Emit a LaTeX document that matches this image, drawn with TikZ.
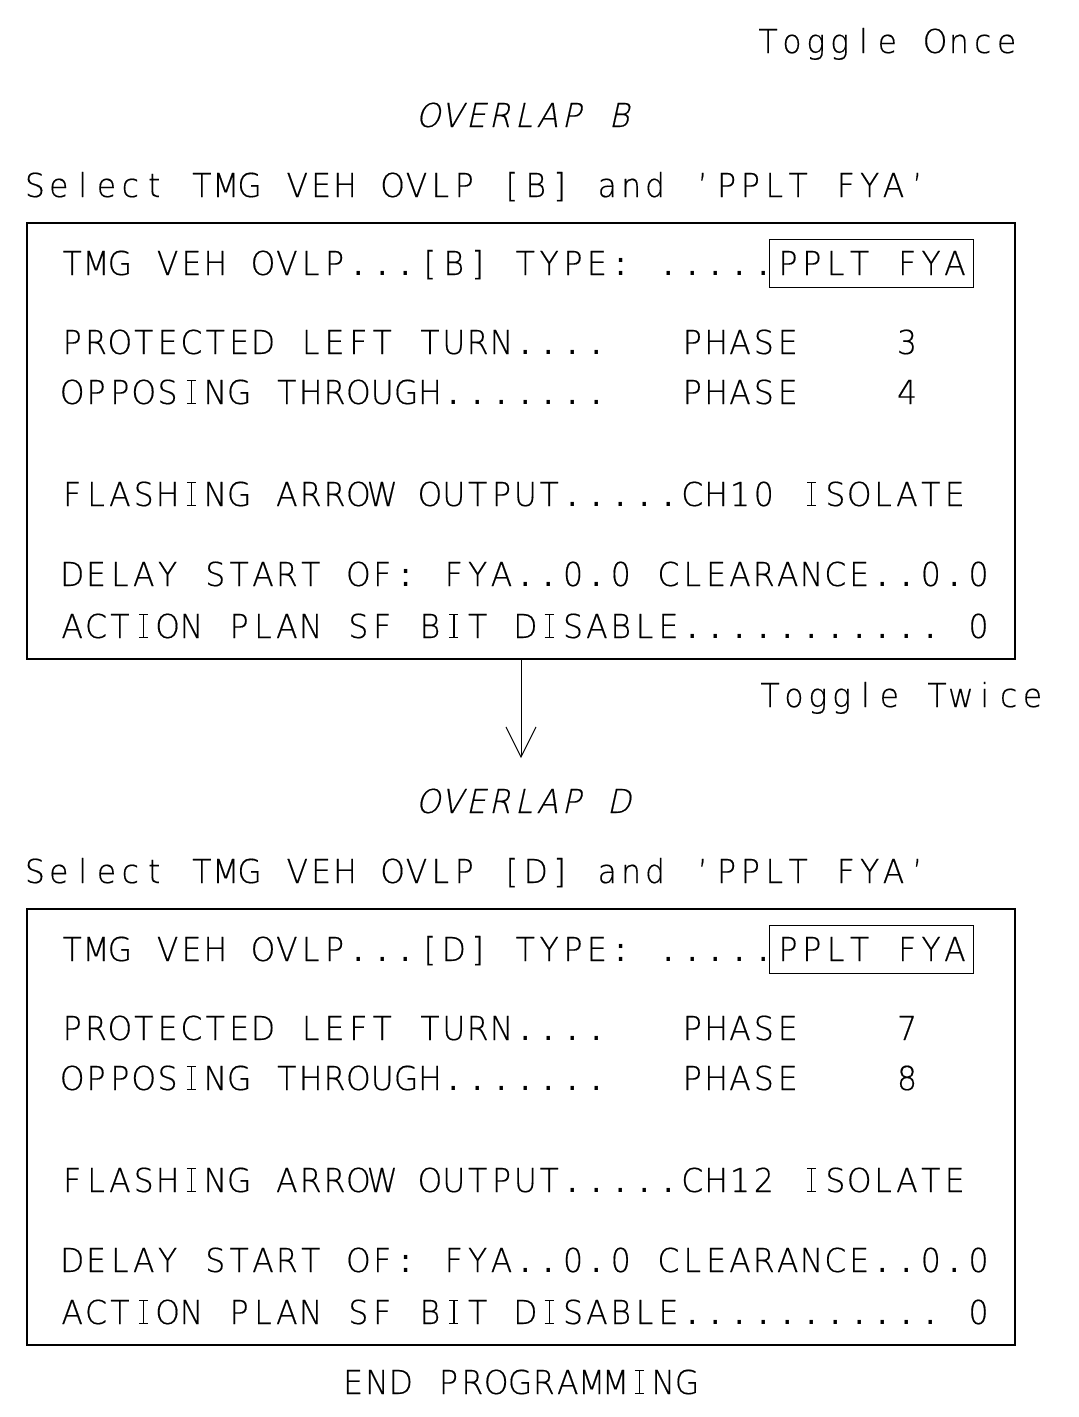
\documentclass[tikz,border=0pt]{standalone}
\usepackage{fontspec}
\usetikzlibrary{arrows.meta}
% Thin sans face, used on a fixed character grid
\newfontfamily\cadfont[Extension=.ttf,FakeStretch=0.95,FakeBold=0.4]{DejaVuSans-ExtraLight}
\newfontfamily\caditfont[Extension=.ttf,FakeStretch=0.95,FakeBold=0.4,FakeSlant=0.22]{DejaVuSans-ExtraLight}
% heavier face for the round dots of periods and colons
\newfontfamily\caddotfont{DejaVu Sans}
\ExplSyntaxOn
\dim_new:N \l_cad_pitch_dim
\dim_set:Nn \l_cad_pitch_dim {23.85pt}
\tl_new:N \l_cad_text_tl
% capital I with top and bottom bars, built from rules
\cs_new_protected:Npn \cadbarI
  {
    \vbox_to_ht:nn { 24pt }
      {
        \hrule height 1.4pt width 9pt
        \vss
        \hbox_to_wd:nn { 9pt } { \hss \vrule width 1.4pt height 21.2pt \hss }
        \vss
        \hrule height 1.4pt width 9pt
      }
  }
% set every character in a cell of fixed width (monospaced lettering)
\cs_new_protected:Npn \cadmono #1
  {
    \tl_set:Nx \l_cad_text_tl {#1}
    \exp_args:NV \str_map_inline:nn \l_cad_text_tl
      {
        \hbox_to_wd:nn { \l_cad_pitch_dim }
          {
            \hss
            \str_case:nnF {##1}
              {
                {.} { { \caddotfont . } }
                {:} { { \caddotfont : } }
                {I} { \cadbarI }
              }
              { ##1 }
            \hss
          }
      }
  }
\ExplSyntaxOff
\tikzset{
  txt/.style={anchor=base west, inner sep=0pt, font=\cadfont\fontsize{33}{40}\selectfont},
  ittxt/.style={txt, font=\caditfont\fontsize{33}{40}\selectfont},
  panel/.style={draw=black, line width=1.5pt, minimum width=988pt, minimum height=436pt, inner sep=0pt},
  tag/.style={txt, draw=black, line width=1pt, inner xsep=6.5pt, inner ysep=12pt,
    text height=24pt, text depth=0pt},
  flow/.style={line width=1pt, -{Straight Barb[length=30pt, width=30pt, line width=1pt]}}
}
\begin{document}
\begin{tikzpicture}[x=1pt,y=-1pt]
\useasboundingbox (0,0) rectangle (1079,1417);

\node[txt] (once) at (756,53) {\cadmono{Toggle Once}};

\foreach \sec/\off/\pa/\pb/\ch in {B/0/3/4/10, D/686/7/8/12}{
  \node[ittxt] (title\sec) at (416,127+\off) {\cadmono{OVERLAP \sec}};
  \node[txt] (select\sec) at (22.8,197+\off) {\cadmono{Select TMG VEH OVLP [\sec] and ’PPLT FYA’}};
  \node[panel] (panel\sec) at (521,441+\off) {};
  \node[txt] (type\sec) at (60.1,275+\off) {\cadmono{TMG VEH OVLP...[\sec] TYPE: .....}};
  \node[tag] (pplt\sec) at (769.1,275+\off) {\cadmono{PPLT FYA}};
  \node[txt] (left\sec) at (60.1,354+\off) {\cadmono{PROTECTED LEFT TURN....}};
  \node[txt] (leftph\sec) at (680.2,354+\off) {\cadmono{PHASE}};
  \node[txt] (leftno\sec) at (894.9,354+\off) {\cadmono{\pa}};
  \node[txt] (opp\sec) at (60.1,404+\off) {\cadmono{OPPOSING THROUGH.......}};
  \node[txt] (oppph\sec) at (680.2,404+\off) {\cadmono{PHASE}};
  \node[txt] (oppno\sec) at (894.9,404+\off) {\cadmono{\pb}};
  \node[txt] (arrowout\sec) at (60.1,506+\off) {\cadmono{FLASHING ARROW OUTPUT.....CH\ch\space ISOLATE}};
  \node[txt] (delay\sec) at (60.1,586+\off) {\cadmono{DELAY START OF: FYA..0.0 CLEARANCE..0.0}};
  \node[txt] (plan\sec) at (60.1,638+\off) {\cadmono{ACTION PLAN SF BIT DISABLE........... 0}};
}

\node[txt] (twice) at (758,707) {\cadmono{Toggle Twice}};
\coordinate (tip) at (521,758);
\draw[flow] (panelB.south) -- (tip);

\node[txt] (finish) at (341,1394) {\cadmono{END PROGRAMMING}};
\end{tikzpicture}
\end{document}
